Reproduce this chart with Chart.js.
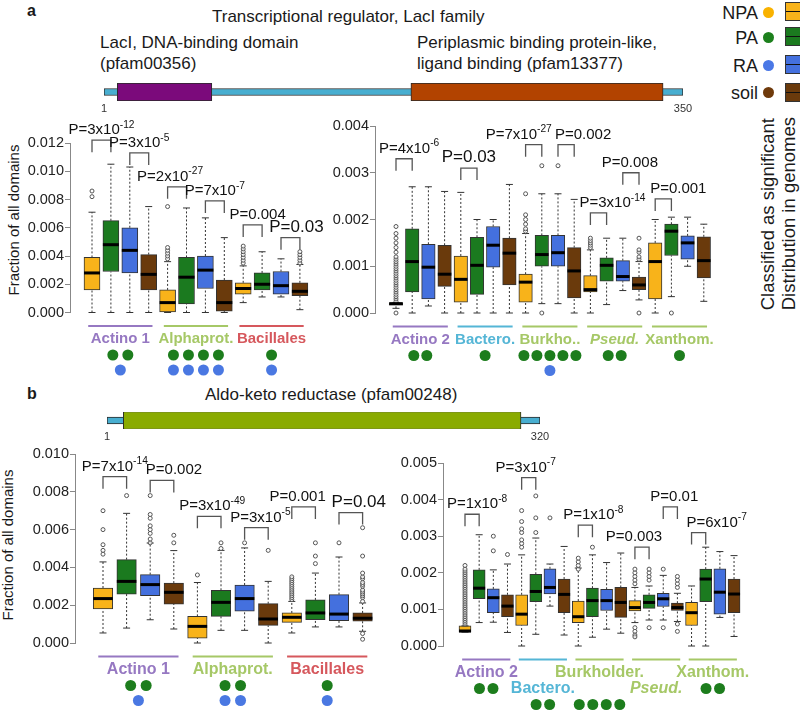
<!DOCTYPE html>
<html>
<head>
<meta charset="utf-8">
<script src="https://cdn.jsdelivr.net/npm/chart.js@4.4.0/dist/chart.umd.min.js"></script>
<style>
  body { margin: 0; width: 800px; height: 710px; position: relative; overflow: hidden; background: #fff;
         font-family: "Liberation Sans", Arial, sans-serif; color: #1a1a1a; }
  canvas { position: absolute; }
  .t { position: absolute; white-space: nowrap; line-height: 1; }
  .vt { position: absolute; white-space: nowrap; line-height: 1; writing-mode: vertical-rl; }
  .key { position: absolute; left: 785px; width: 17px; height: 19px; border: 1px solid #333; box-sizing: border-box; }
  .key::after { content: ''; position: absolute; left: 0; right: 0; top: 8px; border-top: 1.5px solid #111; }
  .dot { position: absolute; width: 11px; height: 11px; border-radius: 50%; left: 763px; }
</style>
</head>
<body>

<div class="t" style="left:27px;top:3px;font-size:16px;font-weight:bold">a</div>
<div class="t" style="left:212px;top:8px;font-size:17px">Transcriptional regulator, LacI family</div>
<div class="t" style="left:100px;top:34px;font-size:17px">LacI, DNA-binding domain</div>
<div class="t" style="left:100px;top:55px;font-size:17px">(pfam00356)</div>
<div class="t" style="left:417px;top:34px;font-size:17px">Periplasmic binding protein-like,</div>
<div class="t" style="left:417px;top:55px;font-size:17px">ligand binding (pfam13377)</div>

<div class="t" style="left:27px;top:386px;font-size:16px;font-weight:bold">b</div>
<div class="t" style="left:205px;top:386px;font-size:17px">Aldo-keto reductase (pfam00248)</div>

<div class="vt" style="left:6px;top:220px;font-size:15px;transform:translateY(-50%) rotate(180deg)">Fraction of all domains</div>
<div class="vt" style="left:0px;top:545px;font-size:15px;transform:translateY(-50%) rotate(180deg)">Fraction of all domains</div>

<!-- legend -->
<div class="t" style="right:42px;top:4px;font-size:18px">NPA</div>
<div class="t" style="right:42px;top:29px;font-size:18px">PA</div>
<div class="t" style="right:42px;top:57px;font-size:18px">RA</div>
<div class="t" style="right:42px;top:84px;font-size:18px">soil</div>
<div class="dot" style="top:7px;background:#f9b200"></div>
<div class="dot" style="top:32px;background:#1d801d"></div>
<div class="dot" style="top:60px;background:#4a78e6"></div>
<div class="dot" style="top:87px;background:#6f3a0b"></div>
<div class="key" style="top:2px;background:#f8b31a"></div>
<div class="key" style="top:27px;background:#1b7a1f"></div>
<div class="key" style="top:55px;background:#4470de"></div>
<div class="key" style="top:83px;background:#6a3a0c"></div>
<div class="vt" style="left:759px;bottom:400px;font-size:18.5px;transform:rotate(180deg)">Classified as significant</div>
<div class="vt" style="left:780px;bottom:400px;font-size:18.5px;transform:rotate(180deg)">Distribution in genomes</div>

<canvas id="domA" width="720" height="40" style="left:0;top:75px"></canvas>
<canvas id="domB" width="600" height="39" style="left:0;top:404px"></canvas>
<canvas id="aLeft" width="360" height="290" style="left:0;top:100px"></canvas>
<canvas id="aRight" width="455" height="290" style="left:305px;top:100px"></canvas>
<canvas id="bLeft" width="400" height="280" style="left:5px;top:430px"></canvas>
<canvas id="bRight" width="427" height="280" style="left:373px;top:430px"></canvas>

<script>
// box order in every group: NPA, PA, RA, soil
const boxColors = ['#f8b31a', '#1b7a1f', '#4470de', '#6a3a0c'];
const FF = '"Liberation Sans", Arial, sans-serif';

// ---- panel a, left: Actino 1, Alphaprot., Bacillales
const aLeftLow  = [0, 0, 0, 0, 0, 0, 0, 0, 0.0007, 0.0011, 0.0011, 0.0002];
const aLeftQ1   = [0.0016, 0.0029, 0.0028, 0.0016, 0.0000, 0.0006, 0.0017, 0.0001, 0.0013, 0.0016, 0.0013, 0.0012];
const aLeftMed  = [0.0028, 0.0048, 0.0044, 0.0027, 0.0007, 0.0025, 0.0030, 0.0007, 0.0017, 0.0020, 0.0019, 0.0015];
const aLeftQ3   = [0.0039, 0.0065, 0.0060, 0.0041, 0.0016, 0.0039, 0.0040, 0.0023, 0.0021, 0.0028, 0.0029, 0.0021];
const aLeftHigh = [0.0071, 0.0105, 0.0103, 0.0075, 0.0036, 0.0074, 0.0067, 0.0053, 0.0033, 0.0043, 0.0038, 0.0034];
const aLeftOut  = [[0.0082, 0.0086], [], [], [], [0.0038, 0.0040, 0.0042, 0.0044, 0.0046, 0.0075], [], [], [],
                   [0.0035, 0.0037, 0.0039, 0.0041, 0.0043, 0.0045, 0.0047], [], [], [0.0035, 0.0037, 0.0039, 0.0041, 0.0043]];
const aLeftTicks = [0, 0.002, 0.004, 0.006, 0.008, 0.010, 0.012];

// ---- panel a, right: Actino 2, Bactero., Burkho., Pseud., Xanthom.
const aRightLow  = [0.0001, 0, 0.00015, 0, 0, 0, 0, 0, 0, 0.0002, 0.0002, 0, 0, 0.00018, 0.00048, 0.00028, 0, 0.00035, 0.0010, 0.00025];
const aRightQ1   = [0.00017, 0.00045, 0.0003, 0.00057, 0.00023, 0.0004, 0.00098, 0.0006, 0.00023, 0.0010, 0.0010, 0.00032,
                    0.00045, 0.00068, 0.00068, 0.0005, 0.0003, 0.00123, 0.00115, 0.00075];
const aRightMed  = [0.0002, 0.0011, 0.00098, 0.00083, 0.00072, 0.00102, 0.00145, 0.00128, 0.00066, 0.00125, 0.00129, 0.0009,
                    0.0005, 0.00102, 0.00078, 0.0006, 0.0011, 0.00175, 0.0015, 0.00112];
const aRightQ3   = [0.00022, 0.0018, 0.00147, 0.00145, 0.00122, 0.00162, 0.00185, 0.0016, 0.00083, 0.00166, 0.00166, 0.0014,
                    0.0008, 0.00118, 0.00112, 0.00077, 0.0015, 0.0019, 0.00165, 0.00163];
const aRightHigh = [0.00022, 0.0027, 0.0027, 0.0026, 0.00258, 0.0020, 0.0020, 0.00275, 0.0017, 0.00255, 0.00255, 0.00243,
                    0.00135, 0.0016, 0.0016, 0.0011, 0.0020, 0.00205, 0.00205, 0.0019];
const aRightOut  = [[0, 0.00025, 0.0003, 0.00035, 0.0004, 0.00045, 0.0005, 0.00055, 0.0006, 0.00065, 0.0007, 0.00075, 0.0008,
                     0.00085, 0.0009, 0.00095, 0.001, 0.00105, 0.0011, 0.00115, 0.0012, 0.0013, 0.0014, 0.0015, 0.0016, 0.0017, 0.00185],
                    [], [], [], [], [], [], [], [0.00175, 0.0018, 0.0019, 0.002, 0.0021, 0.00255], [0.00315, 0], [0.00315], [],
                    [0.0014, 0.00145, 0.0015, 0.00155, 0.0016], [], [], [0.00115, 0.0012, 0.0013, 0.00135, 0.0016, 0], [], [0], [], []];
const aRightTicks = [0, 0.001, 0.002, 0.003, 0.004];

// ---- panel b, left
const bLeftLow  = [0.00053, 0.00079, 0.00123, 0.00074, 0, 0.00067, 0.00067, 0, 0.00053, 0.00085, 0.00085, 0.00062];
const bLeftQ1   = [0.0018, 0.00259, 0.0025, 0.00206, 0.00026, 0.00141, 0.00168, 0.00093, 0.00109, 0.00123, 0.00118, 0.00115];
const bLeftMed  = [0.00235, 0.00326, 0.00309, 0.00268, 0.00088, 0.00215, 0.00235, 0.00127, 0.00136, 0.00159, 0.00153, 0.00131];
const bLeftQ3   = [0.00291, 0.00441, 0.00362, 0.00317, 0.00141, 0.00279, 0.00307, 0.00208, 0.00159, 0.00228, 0.00256, 0.00159];
const bLeftHigh = [0.00429, 0.00686, 0.00529, 0.00489, 0.0032, 0.0049, 0.00503, 0.00326, 0.0022, 0.0037, 0.00455, 0.00212];
const bLeftOut  = [[0.0047, 0.0049, 0.0052, 0.006, 0.007], [0.0078], [0.0053, 0.0055, 0.0058, 0.006, 0.0062, 0.0066, 0.0068, 0.0078],
                   [0.0053, 0.0057], [0.0036], [0.005, 0.0053], [0.0053], [0.0049],
                   [0.0023, 0.0024, 0.0025, 0.0026, 0.0027, 0.0028, 0.0029, 0.003, 0.0031, 0.0032, 0.0033, 0.0034, 0.0035],
                   [0.0042, 0.0046, 0.0053], [0.0053],
                   [0.0022, 0.0024, 0.0025, 0.0026, 0.0027, 0.0028, 0.003, 0.0031, 0.0032, 0.0034, 0.0035, 0.0037, 0.0046, 0.0061, 0.0005, 0.0002]];
const bLeftTicks = [0, 0.002, 0.004, 0.006, 0.008, 0.010];

// ---- panel b, right
const bRightLow  = [0.00038, 0.00064, 0.00065, 0.00037, 0, 0.00032, 0.00109, 0.0003, 0, 0.00024, 0.00046, 0.00035,
                    0.00064, 0.00071, 0.00071, 0.00067, 0, 0, 0.00078, 0.00026];
const bRightQ1   = [0.00038, 0.00129, 0.00091, 0.0008, 0.00056, 0.00121, 0.00142, 0.00091, 0.00064, 0.0008, 0.00097, 0.00078,
                    0.00096, 0.00103, 0.00108, 0.00097, 0.00056, 0.00121, 0.00087, 0.00091];
const bRightMed  = [0.00041, 0.00158, 0.00132, 0.00109, 0.00087, 0.00149, 0.0016, 0.00141, 0.0008, 0.00124, 0.00124, 0.00119,
                    0.00105, 0.00119, 0.00129, 0.00105, 0.00091, 0.00183, 0.00147, 0.00142];
const bRightQ3   = [0.00055, 0.00208, 0.00156, 0.0014, 0.0014, 0.00196, 0.00211, 0.00183, 0.00123, 0.00158, 0.00155, 0.0016,
                    0.00124, 0.0014, 0.00144, 0.00117, 0.00119, 0.0021, 0.00211, 0.00183];
const bRightHigh = [0.00055, 0.00304, 0.00208, 0.00224, 0.00249, 0.00295, 0.00224, 0.00272, 0.00213, 0.00249, 0.00228, 0.00254,
                    0.0016, 0.00164, 0.00193, 0.00144, 0.00164, 0.0027, 0.00258, 0.00247];
const bRightOut  = [[0.0006, 0.00065, 0.0007, 0.00075, 0.0008, 0.00085, 0.0009, 0.00095, 0.001, 0.00105, 0.0011, 0.00115, 0.0012,
                     0.00125, 0.0013, 0.00135, 0.0014, 0.00145, 0.0015, 0.00155, 0.0016, 0.00165, 0.0017, 0.00175, 0.0018,
                     0.00185, 0.0019, 0.00195, 0.002, 0.00205, 0.0021, 0.0022],
                    [], [0.0026, 0.003], [0.0025], [0.0027, 0.0028, 0.0029, 0.0031, 0.0032, 0.0034, 0.0037], [0.0031, 0.0035, 0.0041],
                    [0.0035], [], [0.0021, 0.0022, 0.0023, 0.0024], [0.0027], [], [],
                    [0.0017, 0.0018, 0.0019, 0.002, 0.0021, 0.0005, 0.0004, 0.0003, 0.00025], [0.0018, 0.0019, 0.002, 0.0021, 0.0005],
                    [0.0021, 0.0005], [0.0016, 0.0017, 0.0018, 0.0019, 0.0006, 0.0004], [], [], [], []];
const bRightTicks = [0, 0.001, 0.002, 0.003, 0.004, 0.005];

// ---- tests: [box i, box j, bracket height, text, text shift px, font px]
const aLeftTests = [[0, 1, 0.0122, 'P=3x10^-12', 0, 15], [2, 3, 0.0113, 'P=3x10^-5', 0, 15], [4, 5, 0.0089, 'P=2x10^-27', -7, 15],
                    [6, 7, 0.0079, 'P=7x10^-7', 0, 15], [8, 9, 0.0062, 'P=0.004', 5, 15], [10, 11, 0.0053, 'P=0.03', 6, 17]];
const aRightTests = [[0, 1, 0.0033, 'P=4x10^-6', 5, 15], [4, 5, 0.0031, 'P=0.03', 0, 17], [8, 9, 0.0036, 'P=7x10^-27', -15, 15],
                     [10, 11, 0.0036, 'P=0.002', 17, 15], [12, 13, 0.00214, 'P=3x10^-14', 14, 15], [14, 15, 0.0030, 'P=0.008', -1, 15],
                     [16, 17, 0.00244, 'P=0.001', 15, 15]];
const bLeftTests = [[0, 1, 0.0088, 'P=7x10^-14', 0, 15], [2, 3, 0.0086, 'P=0.002', 12, 15], [4, 5, 0.0067, 'P=3x10^-49', 3, 15],
                    [6, 7, 0.0061, 'P=3x10^-5', 4, 15], [8, 9, 0.0072, 'P=0.001', -6, 15], [10, 11, 0.0069, 'P=0.04', 8, 17]];
const bRightTests = [[0, 1, 0.0036, 'P=1x10^-8', 5, 15], [4, 5, 0.0046, 'P=3x10^-7', -3, 15], [8, 9, 0.0033, 'P=1x10^-8', 8, 15],
                     [12, 13, 0.0027, 'P=0.003', -8, 15], [14, 15, 0.0038, 'P=0.01', 4, 15], [16, 17, 0.0031, 'P=6x10^-7', 18, 15]];

// ---- taxon groups: [name, first box, last box, green dots (PA), blue dots (RA)]
const aLeftGroups = [['Actino 1', 0, 3, 2, 1], ['Alphaprot.', 4, 7, 4, 4], ['Bacillales', 8, 11, 1, 1]];
const aRightGroups = [['Actino 2', 0, 3, 2, 0], ['Bactero.', 4, 7, 1, 0], ['Burkho..', 8, 11, 5, 1], ['Pseud.', 12, 15, 2, 0], ['Xanthom.', 16, 19, 1, 0]];
const bLeftGroups = [['Actino 1', 0, 3, 2, 1], ['Alphaprot.', 4, 7, 2, 2], ['Bacillales', 8, 11, 1, 1]];
const bRightGroups = [['Actino 2', 0, 3, 2, 0], ['Bactero.', 4, 7, 2, 0], ['Burkholder.', 8, 11, 4, 0], ['Pseud.', 12, 15, 0, 0], ['Xanthom.', 16, 19, 2, 0]];
const groupColor = { 'Actino 1': '#9678c2', 'Actino 2': '#9678c2', 'Alphaprot.': '#a6c867', 'Bacillales': '#d6585d',
                     'Bactero.': '#55b6d6', 'Burkho..': '#a6c867', 'Burkholder.': '#a6c867', 'Pseud.': '#a6c867', 'Xanthom.': '#a6c867' };

// ---- protein domains (residue ranges)
const lacLength = 350;
const lacDomains = [[9, 66, '#7b0a7b'], [186, 338, '#b24300']];
const akrLength = 320;
const akrDomains = [[13, 306, '#8aab00']];

function drawP(ctx, text, cx, base, fs) {
  const [b, e] = text.split('^');
  ctx.font = fs + 'px ' + FF;
  const wb = ctx.measureText(b).width;
  let we = 0;
  if (e) { ctx.font = (fs * 0.68) + 'px ' + FF; we = ctx.measureText(e).width; }
  const x0 = cx - (wb + we) / 2;
  ctx.fillStyle = '#111';
  ctx.textAlign = 'left';
  ctx.textBaseline = 'alphabetic';
  ctx.font = fs + 'px ' + FF;
  ctx.fillText(b, x0, base);
  if (e) { ctx.font = (fs * 0.68) + 'px ' + FF; ctx.fillText(e, x0 + wb, base - fs * 0.42); }
}

function annotPlugin(tests, groups, look) {
  return {
    id: 'annot',
    afterDraw(chart) {
      const { ctx, chartArea } = chart;
      const x = chart.scales.x, y = chart.scales.y;
      ctx.save();
      tests.forEach(([i, j, h, txt, dx, fs]) => {
        const x1 = x.getPixelForValue(i), x2 = x.getPixelForValue(j), yt = y.getPixelForValue(h);
        ctx.strokeStyle = '#555';
        ctx.lineWidth = 1.3;
        ctx.beginPath();
        ctx.moveTo(x1, yt + 12); ctx.lineTo(x1, yt); ctx.lineTo(x2, yt); ctx.lineTo(x2, yt + 12);
        ctx.stroke();
        drawP(ctx, txt, (x1 + x2) / 2 + dx, yt - 6, fs);
      });
      const under = chartArea.bottom + 13.5;
      groups.forEach(([name, from, to, nG, nB], k) => {
        const rows = look.rows ? look.rows[k] : [0, 0];
        const col = groupColor[name];
        const cx = x.getPixelForValue((from + to) / 2);
        ctx.strokeStyle = col;
        ctx.lineWidth = 2;
        ctx.beginPath();
        ctx.moveTo(x.getPixelForValue(from - 0.2), under);
        ctx.lineTo(x.getPixelForValue(to + 0.2), under);
        ctx.stroke();
        ctx.fillStyle = col;
        ctx.textAlign = 'center';
        ctx.font = (name === 'Pseud.' ? 'italic ' : '') + 'bold ' + look.fs + 'px ' + FF;
        ctx.fillText(name, cx, under + 17 + rows[0] * 16);
        const dotRow = (n, yy, c) => {
          for (let d = 0; d < n; d++) {
            ctx.fillStyle = c;
            ctx.beginPath();
            ctx.arc(cx + (d - (n - 1) / 2) * look.gap, yy, 5.5, 0, Math.PI * 2);
            ctx.fill();
          }
        };
        dotRow(nG, under + (rows[1] ? 45 : 29), '#1d7d1d');
        dotRow(nB, under + 44, '#4a78e2');
      });
      ctx.restore();
    }
  };
}

function boxChart(id, low, q1, med, q3, high, out, ticks, tests, groups, lay) {
  const idx = med.map((_, i) => i);
  const whisk = [], caps = [], outs = [];
  idx.forEach(i => {
    whisk.push({ x: i, y: low[i] }, { x: i, y: q1[i] }, { x: i, y: null },
               { x: i, y: q3[i] }, { x: i, y: high[i] }, { x: i, y: null });
    caps.push({ x: i, y: low[i] }, { x: i, y: high[i] });
    out[i].forEach(v => outs.push({ x: i, y: v }));
  });
  const padLeft = lay.axisX - lay.left - 60;
  const padRight = 30;
  const areaW = lay.width - padLeft - 60 - padRight;
  const xmin = -(lay.x0 - lay.axisX) / lay.dx;
  const xmax = xmin + areaW / lay.dx;
  new Chart(document.getElementById(id), {
    type: 'bar',
    data: {
      datasets: [
        { type: 'scatter', data: idx.map(i => ({ x: i, y: med[i] })), pointStyle: 'line', pointRadius: lay.barW / 2,
          borderColor: '#000', borderWidth: 3, order: 0, clip: false },
        { type: 'scatter', data: outs, pointStyle: 'circle', pointRadius: 2, borderWidth: 1, borderColor: '#555',
          backgroundColor: 'rgba(255,255,255,0.7)', order: 1, clip: false },
        { type: 'scatter', data: caps, pointStyle: 'line', pointRadius: 3.5, borderWidth: 1, borderColor: '#333', order: 1, clip: false },
        { type: 'bar', data: idx.map(i => ({ x: i, y: [q1[i], q3[i]] })), backgroundColor: idx.map(i => boxColors[i % 4]),
          borderColor: '#333', borderWidth: 1, borderSkipped: false, barThickness: lay.barW, order: 2, clip: false },
        { type: 'line', data: whisk, borderColor: '#333', borderWidth: 1, borderDash: [2, 2], pointRadius: 0,
          spanGaps: false, order: 3, clip: false }
      ]
    },
    options: {
      responsive: false, animation: false, events: [],
      layout: { autoPadding: false,
                padding: { left: padLeft, right: padRight, top: lay.yTop - lay.top, bottom: lay.top + lay.height - lay.yBottom } },
      plugins: { legend: { display: false }, tooltip: { enabled: false } },
      scales: {
        x: { type: 'linear', display: false, offset: false, min: xmin, max: xmax },
        y: { min: ticks[0], max: ticks[ticks.length - 1],
             afterFit: s => { s.width = 60; },
             afterBuildTicks: s => { s.ticks = ticks.map(v => ({ value: v })); },
             ticks: { callback: v => v.toFixed(3), color: '#222', font: { family: FF, size: 14.5 }, padding: 1 },
             grid: { drawOnChartArea: false, drawTicks: true, tickLength: 5, color: '#888' },
             border: { display: true, color: '#888', width: 1 } }
      }
    },
    plugins: [annotPlugin(tests, groups, lay)]
  });
}

function domainChart(id, length, domains, padL, padR) {
  const ds = [{ data: [[1, length]], backgroundColor: '#48aed0', borderColor: '#2a2a2a', borderWidth: 1,
                borderSkipped: false, barThickness: 7, grouped: false, order: 2 }];
  domains.forEach(([s, e, c]) => ds.push({ data: [[s, e]], backgroundColor: c, borderColor: '#2a2a2a', borderWidth: 1,
                                          borderSkipped: false, barThickness: 18, grouped: false, order: 1 }));
  new Chart(document.getElementById(id), {
    type: 'bar',
    data: { labels: ['protein'], datasets: ds },
    options: {
      indexAxis: 'y', responsive: false, animation: false, events: [],
      layout: { autoPadding: false, padding: { left: padL, right: padR, top: 8, bottom: 0 } },
      plugins: { legend: { display: false }, tooltip: { enabled: false } },
      scales: {
        y: { display: false },
        x: { type: 'linear', min: 1, max: length,
             afterFit: s => { s.height = 14; },
             afterBuildTicks: s => { s.ticks = [1, length].map(v => ({ value: v })); },
             grid: { display: false, drawTicks: false }, border: { display: false },
             ticks: { color: '#333', font: { family: FF, size: 11 }, padding: 1, autoSkip: false, maxRotation: 0 } }
      }
    }
  });
}

domainChart('domA', lacLength, lacDomains, 104, 37);
domainChart('domB', akrLength, akrDomains, 107, 60);

boxChart('aLeft', aLeftLow, aLeftQ1, aLeftMed, aLeftQ3, aLeftHigh, aLeftOut, aLeftTicks, aLeftTests, aLeftGroups,
         { left: 0, top: 100, width: 360, height: 290, axisX: 70, yTop: 143, yBottom: 312.5, x0: 92, dx: 18.9, barW: 16, fs: 15, gap: 15 });
boxChart('aRight', aRightLow, aRightQ1, aRightMed, aRightQ3, aRightHigh, aRightOut, aRightTicks, aRightTests, aRightGroups,
         { left: 305, top: 100, width: 455, height: 290, axisX: 375, yTop: 126, yBottom: 313, x0: 396, dx: 16.2, barW: 13.5, fs: 15, gap: 13 });
boxChart('bLeft', bLeftLow, bLeftQ1, bLeftMed, bLeftQ3, bLeftHigh, bLeftOut, bLeftTicks, bLeftTests, bLeftGroups,
         { left: 5, top: 430, width: 400, height: 280, axisX: 75, yTop: 454, yBottom: 643, x0: 103, dx: 23.6, barW: 19.5, fs: 16, gap: 15.5 });
boxChart('bRight', bRightLow, bRightQ1, bRightMed, bRightQ3, bRightHigh, bRightOut, bRightTicks, bRightTests, bRightGroups,
         { left: 373, top: 430, width: 427, height: 280, axisX: 443, yTop: 463, yBottom: 646, x0: 465, dx: 14.16, barW: 12, fs: 16, gap: 13.5,
           rows: [[0, 0], [1, 1], [0, 1], [1, 0], [0, 0]] });
</script>
</body>
</html>
